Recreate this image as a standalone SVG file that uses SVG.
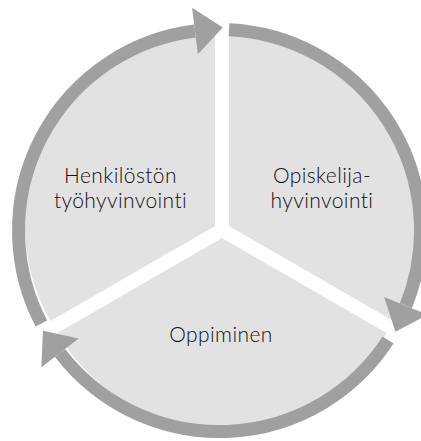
<svg xmlns="http://www.w3.org/2000/svg" width="421" height="441" viewBox="0 0 421 441">
  <style>
    .sector { fill: #e2e2e2; stroke: none; }
    .ring { fill: none; stroke: #a0a0a0; stroke-width: 13; stroke-linecap: butt; }
    .head { fill: #a0a0a0; stroke: none; }
    .label { font-family: Lato, "Open Sans", "Liberation Sans", sans-serif; font-weight: 300; font-size: 21px; letter-spacing: 0.4px; fill: #111111; text-anchor: middle; font-variant-ligatures: none; font-feature-settings: "liga" 0, "clig" 0; }
  </style>
  <defs>
    <marker id="arrowhead" markerUnits="userSpaceOnUse" markerWidth="60" markerHeight="60" refX="0" refY="0" orient="auto" overflow="visible">
      <path class="head" d="M0,-23.5 L28,0 L0,23.5 Z"/>
    </marker>
  </defs>
  <rect width="421" height="441" fill="#ffffff"/>

  <g id="node-henkiloston">
    <path class="sector" d="M215.07,226 L215.07,36 A190,190 0 0 0 50.53,321 Z"/>
    <text class="label" x="120.5" y="183">Henkilöstön</text>
    <text class="label" x="120.5" y="207.5">työhyvinvointi</text>
  </g>
  <g id="node-opiskelija">
    <path class="sector" d="M228.93,226 L228.93,36 A190,190 0 0 1 393.47,321 Z"/>
    <text class="label" x="322" y="183">Opiskelija-</text>
    <text class="label" x="322" y="207.5">hyvinvointi</text>
  </g>
  <g id="node-oppiminen">
    <path class="sector" d="M222,238 L386.54,333 A190,190 0 0 1 57.46,333 Z"/>
    <text class="label" x="221" y="341.5">Oppiminen</text>
  </g>

  <g id="connectors">
    <path class="ring" marker-end="url(#arrowhead)" d="M41.4,323.6 A201,201 0 0 1 195.0,31.0"/>
    <path class="ring" marker-end="url(#arrowhead)" d="M229.0,29.7 A201,201 0 0 1 405.9,305.8"/>
    <path class="ring" marker-end="url(#arrowhead)" d="M388.1,340.0 A201,201 0 0 1 60.0,352.9"/>
  </g>
</svg>
